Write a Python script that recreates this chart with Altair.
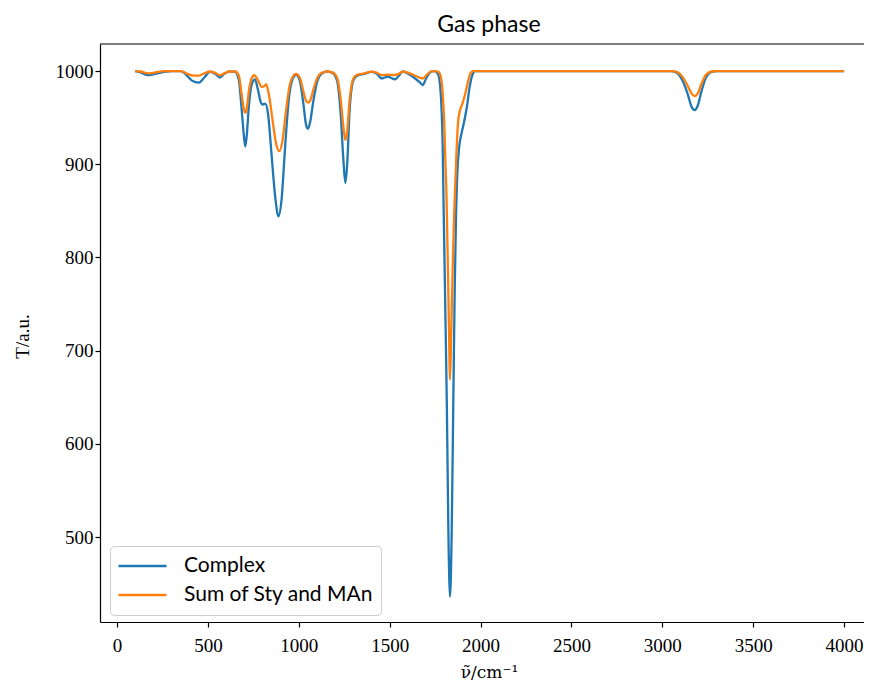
import altair as alt
import pandas as pd

# ---- data ----
complex_wn = [100, 130, 170, 210, 260, 300, 350, 380, 410, 450, 480, 510, 540, 565, 590, 620, 650, 670, 685, 697, 705, 713, 725, 740, 758, 775, 790, 800, 815, 830, 850, 870, 888, 905, 925, 945, 965, 985, 1005, 1025, 1040, 1050, 1062, 1080, 1100, 1125, 1155, 1185, 1210, 1230, 1245, 1256, 1266, 1280, 1300, 1320, 1360, 1400, 1430, 1456, 1490, 1515, 1530, 1550, 1572, 1610, 1640, 1665, 1682, 1700, 1725,
              1745, 1765, 1777, 1785, 1791, 1796, 1805, 1814, 1823, 1832, 1841, 1850, 1858, 1865, 1872, 1882, 1895, 1910, 1925, 1940, 1955, 1970, 2100, 3000, 3050, 3080, 3110, 3140, 3160, 3178, 3195, 3215, 3240, 3270, 3300, 3600, 4000]
complex_T = [1000, 998.5, 995.5, 997, 999, 1000, 1000, 996, 990, 987.5, 993, 999, 997, 993, 997, 999.5, 999, 990, 960, 932, 919, 930, 962, 985, 991, 980, 967, 964, 965, 955, 910, 865, 844, 862, 920, 970, 991, 996, 990, 965, 942, 938, 945, 968, 988, 997, 999.5, 998, 990, 955, 905, 880, 900, 960, 990, 995, 997, 999, 997, 992, 994, 992, 991, 995, 999.5, 996, 992, 988, 985, 992, 999,
             1000, 997, 985, 960, 925, 862, 755, 647, 504, 436, 504, 647, 770, 845, 890, 918, 933, 946, 962, 983, 996, 1000, 1000, 1000, 1000, 998, 990, 975, 962, 958, 963, 978, 993, 999, 1000, 1000, 1000]

sum_wn = [100, 130, 170, 210, 260, 350, 380, 420, 450, 480, 510, 540, 565, 590, 620, 650, 670, 685, 697, 705, 713, 725, 740, 755, 775, 795, 812, 820, 835, 855, 875, 893, 910, 930, 950, 970, 985, 1005, 1025, 1040, 1050, 1062, 1080, 1100, 1125, 1155, 1185, 1210, 1230, 1245, 1256, 1266, 1280, 1300, 1320, 1360, 1400, 1430, 1456, 1490, 1520, 1550, 1572, 1610, 1640, 1665, 1682, 1700, 1725,
          1745, 1770, 1782, 1792, 1800, 1806, 1813, 1820, 1826, 1832, 1838, 1845, 1852, 1860, 1868, 1876, 1886, 1900, 1915, 1930, 1945, 1960, 2100, 3000, 3050, 3080, 3110, 3140, 3160, 3178, 3195, 3215, 3240, 3270, 3300, 3600, 4000]
sum_T = [1000, 999.5, 997.5, 998.5, 1000, 1000, 997.5, 995, 995, 997.5, 999.5, 998, 995.5, 997.5, 999.5, 999.5, 995, 975, 960, 955, 959, 978, 992, 995.7, 990, 983, 984, 986, 975, 948, 922, 914, 925, 958, 985, 995, 997, 993, 978, 968, 966, 968, 980, 992, 998, 999.5, 998.5, 993, 970, 940, 926, 935, 970, 992, 996, 997.5, 999.3, 998, 995.7, 996, 995.7, 997, 999.5, 997.5, 995, 993, 992, 995, 999.5,
         1000, 999, 993, 975, 945, 905, 862, 790, 725, 669, 715, 775, 830, 875, 915, 945, 957, 965, 975, 988, 998, 1000, 1000, 1000, 1000, 999, 994, 984, 976, 973, 976, 986, 996, 999.5, 1000, 1000, 1000]

series_names = ["Complex", "Sum of Sty and MAn"]
series_colors = ["#1f77b4", "#ff7f0e"]
x_ticks = [0, 500, 1000, 1500, 2000, 2500, 3000, 3500, 4000]
y_ticks = [500, 600, 700, 800, 900, 1000]

df = pd.concat([
    pd.DataFrame({"wn": complex_wn, "T": complex_T, "series": series_names[0]}),
    pd.DataFrame({"wn": sum_wn, "T": sum_T, "series": series_names[1]}),
], ignore_index=True)

W, H = 764, 578
SERIF = "Liberation Serif"
SANS = "Lato"

lines = alt.Chart(df).mark_line(strokeWidth=2.3, interpolate="monotone").encode(
    x=alt.X("wn:Q",
            scale=alt.Scale(domain=[-94, 4109.6], nice=False, zero=False),
            axis=alt.Axis(values=x_ticks, title="ν̃/cm⁻¹", format="d",
                          labelPadding=9, titleX=389, titleY=55,
                          titleFont="DejaVu Serif", titleFontSize=17,
                          titleAlign="center", titleBaseline="alphabetic")),
    y=alt.Y("T:Q",
            scale=alt.Scale(domain=[408.8, 1029.0], nice=False, zero=False),
            axis=alt.Axis(values=y_ticks, title="T/a.u.", format="d",
                          labelPadding=2, titleX=-78, titleY=292, titleAngle=270,
                          titleAlign="center", titleBaseline="middle")),
    color=alt.Color("series:N",
                    scale=alt.Scale(domain=series_names, range=series_colors),
                    legend=alt.Legend(orient="none", legendX=10, legendY=502, title=None,
                                      symbolType="stroke", symbolSize=2304,
                                      symbolStrokeWidth=2.3, labelFont=SANS,
                                      labelFontSize=21, labelColor="black",
                                      labelLimit=400,
                                      labelOffset=16, padding=7, clipHeight=26,
                                      rowPadding=3, fillColor="white",
                                      strokeColor="#cccccc", cornerRadius=4)),
)

top_frame = alt.Chart(pd.DataFrame({"k": [0]})).mark_rule(color="black", strokeWidth=1.2).encode(
    x=alt.value(0), x2=alt.value(W), y=alt.value(0)
)

chart = alt.layer(lines, top_frame).properties(
    width=W, height=H,
    title=alt.TitleParams("Gas phase", font=SANS, fontSize=23, fontWeight="normal",
                          color="black", anchor="middle", offset=6, dx=7),
    autosize=alt.AutoSizeParams(type="none"),
    padding={"left": 92, "top": 36, "right": 0, "bottom": 59},
).configure_view(stroke=None).configure_axis(
    domainColor="black", domainWidth=1.2, tickColor="black", tickWidth=1.2,
    tickSize=5, labelFont=SERIF, labelFontSize=19, labelColor="black",
    grid=False, titleFont=SERIF, titleFontSize=19, titleFontWeight="normal",
    titleColor="black"
)

chart.save("out.html", embed_options={"renderer": "svg", "actions": False})
